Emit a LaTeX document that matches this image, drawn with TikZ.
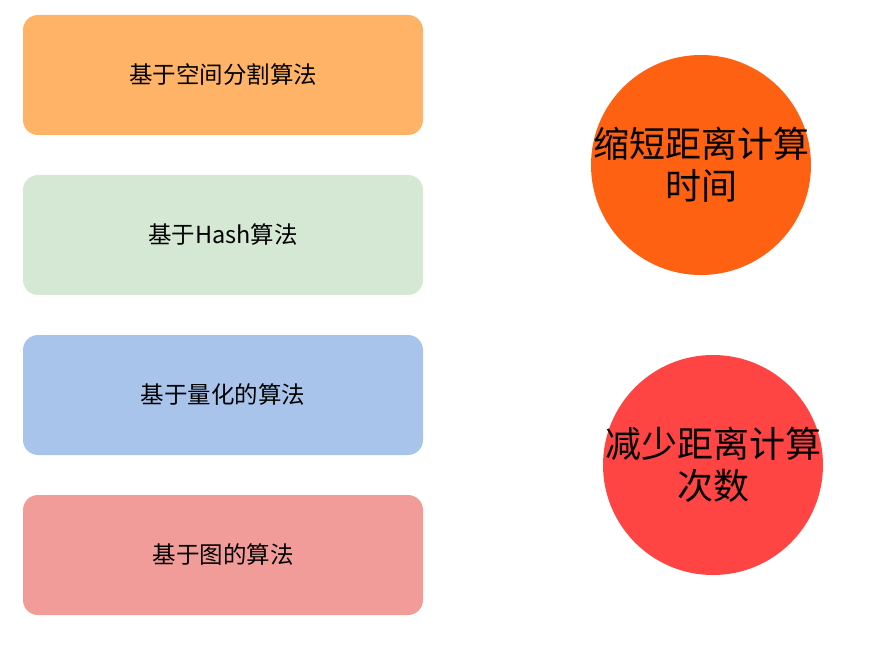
\documentclass[tikz,border=0pt]{standalone}
\usepackage{fontspec}
\setmainfont{Noto Sans CJK SC}
\definecolor{cOrange}{HTML}{FFB366}
\definecolor{cGreen}{HTML}{D5E8D4}
\definecolor{cBlue}{HTML}{A9C4EB}
\definecolor{cPink}{HTML}{F19C99}
\definecolor{cCircA}{HTML}{FF6112}
\definecolor{cCircB}{HTML}{FF4444}
\tikzset{
  algbox/.style={rectangle, rounded corners=15pt, minimum width=400pt, minimum height=120pt, inner sep=0pt, font=\fontsize{23.5}{28}\selectfont},
  goal/.style={circle, minimum size=220pt, inner sep=0pt},
  goaltext/.style={inner sep=0pt, align=center, font=\fontsize{36}{42}\selectfont}
}
\begin{document}
\begin{tikzpicture}[x=1pt,y=-1pt]
\useasboundingbox (0,0) rectangle (870,660);
\node[algbox, fill=cOrange] (a1) at (223,75) {基于空间分割算法};
\node[algbox, fill=cGreen] (a2) at (223,235) {基于Hash算法};
\node[algbox, fill=cBlue] (a3) at (223,395) {基于量化的算法};
\node[algbox, fill=cPink] (a4) at (223,555) {基于图的算法};
\node[goal, fill=cCircA, label={[goaltext]center:缩短距离计算\\时间}] (g1) at (701,165) {};
\node[goal, fill=cCircB, label={[goaltext]center:减少距离计算\\次数}] (g2) at (713,465) {};
\end{tikzpicture}
\end{document}
